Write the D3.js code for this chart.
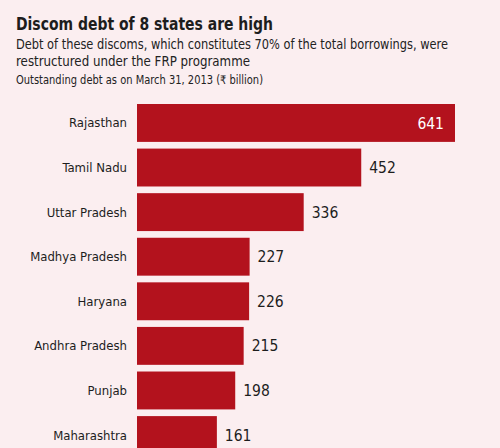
<!DOCTYPE html>
<html>
<head>
<meta charset="utf-8">
<script src="https://cdn.jsdelivr.net/npm/d3@7"></script>
<style>
  html, body { margin: 0; padding: 0; background: #fbeef0; }
  svg { display: block; }
  text { font-family: 'Liberation Sans Narrow', 'DejaVu Sans Condensed', sans-serif; }
</style>
</head>
<body>
<div id="chart"></div>
<script>
var states = ['Rajasthan', 'Tamil Nadu', 'Uttar Pradesh', 'Madhya Pradesh', 'Haryana', 'Andhra Pradesh', 'Punjab', 'Maharashtra']
var debt = [641, 452, 336, 227, 226, 215, 198, 161]

var title = 'Discom debt of 8 states are high'
var subtitle = ['Debt of these discoms, which constitutes 70% of the total borrowings, were',
  'restructured under the FRP programme']
var unitNote = 'Outstanding debt as on March 31, 2013 (\u20b9 billion)'

var width = 500
var height = 448
var barColor = '#b3121d'

var svg = d3.select('#chart').append('svg')
  .attr('width', width)
  .attr('height', height)

svg.append('rect')
  .attr('width', width)
  .attr('height', height)
  .attr('fill', '#fbeef0')

// header, squeezed to the widths of the original condensed face
svg.append('text')
  .attr('x', 16).attr('y', 30)
  .attr('font-size', 17.5)
  .attr('font-weight', 'bold')
  .attr('fill', '#1d1d1d')
  .attr('textLength', 257)
  .attr('lengthAdjust', 'spacingAndGlyphs')
  .text(title)

var subLen = [432, 234]
svg.selectAll('.sub')
  .data(subtitle)
  .enter().append('text')
  .attr('class', 'sub')
  .attr('x', 16)
  .attr('y', function (d, i) { return 49 + i * 17 })
  .attr('font-size', 13.5)
  .attr('fill', '#222')
  .attr('textLength', function (d, i) { return subLen[i] })
  .attr('lengthAdjust', 'spacingAndGlyphs')
  .text(function (d) { return d })

svg.append('text')
  .attr('x', 16).attr('y', 84)
  .attr('font-size', 11.5)
  .attr('fill', '#222')
  .attr('textLength', 247)
  .attr('lengthAdjust', 'spacingAndGlyphs')
  .text(unitNote)

var x = d3.scaleLinear().domain([0, 641]).range([137, 455])
var y = d3.scaleBand().domain(states).range([104, 454]).paddingInner(0.15).paddingOuter(0)

var rows = svg.selectAll('.row')
  .data(states)
  .enter().append('g')
  .attr('class', 'row')

rows.append('rect')
  .attr('x', x(0))
  .attr('y', function (d) { return y(d) })
  .attr('width', function (d, i) { return x(debt[i]) - x(0) })
  .attr('height', y.bandwidth())
  .attr('fill', barColor)

rows.append('text')
  .attr('x', 127)
  .attr('y', function (d) { return y(d) + y.bandwidth() / 2 })
  .attr('dy', '0.35em')
  .attr('text-anchor', 'end')
  .attr('font-size', 13)
  .attr('fill', '#1d1d1d')
  .text(function (d) { return d })

rows.append('text')
  .attr('x', function (d, i) { return i === 0 ? x(debt[i]) - 11 : x(debt[i]) + 8 })
  .attr('y', function (d) { return y(d) + y.bandwidth() / 2 })
  .attr('dy', '0.36em')
  .attr('text-anchor', function (d, i) { return i === 0 ? 'end' : 'start' })
  .attr('font-size', 15.5)
  .attr('fill', function (d, i) { return i === 0 ? '#fff' : '#1d1d1d' })
  .text(function (d, i) { return debt[i] })
</script>
</body>
</html>
